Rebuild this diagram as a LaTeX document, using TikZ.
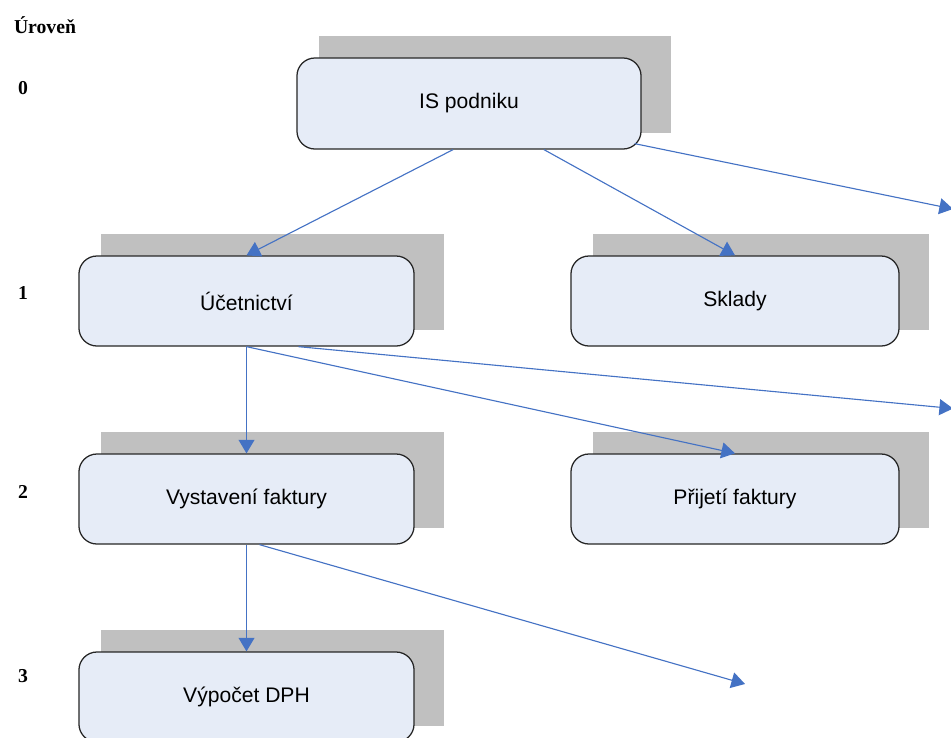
\documentclass[tikz,border=0pt]{standalone}
\usepackage{fontspec}
\setmainfont{Liberation Serif}
\newfontfamily\boxfont{Liberation Sans}
\usetikzlibrary{arrows.meta,calc,backgrounds}
\definecolor{boxfill}{HTML}{E6ECF7}
\definecolor{shadowgray}{HTML}{C0C0C0}
\definecolor{linkblue}{HTML}{4472C4}
\tikzset{
  box/.style={draw=black!85, line width=0.9pt, fill=boxfill, rounded corners=0.45cm,
    minimum width=8.375cm, minimum height=2.25cm, font=\boxfont\fontsize{15}{17}\selectfont},
  level/.style={font=\bfseries\fontsize{14}{16}\selectfont},
  link/.style={draw=linkblue, line width=0.8pt, -{Triangle[length=0.34cm,width=0.4cm]}}
}

\begin{document}
\begin{tikzpicture}[x=0.025cm,y=-0.025cm]
\useasboundingbox (0,0) rectangle (951,737);
% Level labels on the left
\node[level] (uroven) at (45,25) {Úroveň};
\foreach \l/\y in {0/88,1/293,2/492,3/676}
  \node[level] (lev\l) at (23,\y) {\l};
% Boxes
\node[box, minimum width=8.6cm, minimum height=2.275cm] (is) at (469,103.5) {IS podniku};
\node[box] (ucto) at (246.5,301) {Účetnictví};
\node[box, minimum width=8.2cm] (sklady) at (735,301) {Sklady};
\node[box] (vyst) at (246.5,499) {Vystavení faktury};
\node[box, minimum width=8.2cm] (prij) at (735,499) {Přijetí faktury};
\node[box] (vypocet) at (246.5,697) {Výpočet DPH};
% Shadows behind the boxes
\begin{scope}[on background layer]
\foreach \n in {is,ucto,sklady,vyst,prij,vypocet}
  \fill[shadowgray] ($(\n.north west)+(23,-21)$) rectangle ($(\n.south east)+(29,-17)$);
\end{scope}
% Open ends
\coordinate (out0) at (953,209);
\coordinate (out1) at (953,408.5);
\coordinate (out2) at (745,684);
% Level 0 -> 1
\draw[link] ($(is.south)+(-16,0)$) -- (ucto.north);
\draw[link] ($(is.south)+(75,0)$) -- (sklady.north);
\draw[link] ($(is.south east)+(-7,-6)$) -- (out0);
% Level 1 -> 2
\draw[link] (ucto.south) -- (vyst.north);
\draw[link] (ucto.south) -- (prij.north);
\draw[link] ($(ucto.south)+(52,0)$) -- (out1);
% Level 2 -> 3
\draw[link] (vyst.south) -- (vypocet.north);
\draw[link] ($(vyst.south)+(13,0)$) -- (out2);
\end{tikzpicture}
\end{document}
